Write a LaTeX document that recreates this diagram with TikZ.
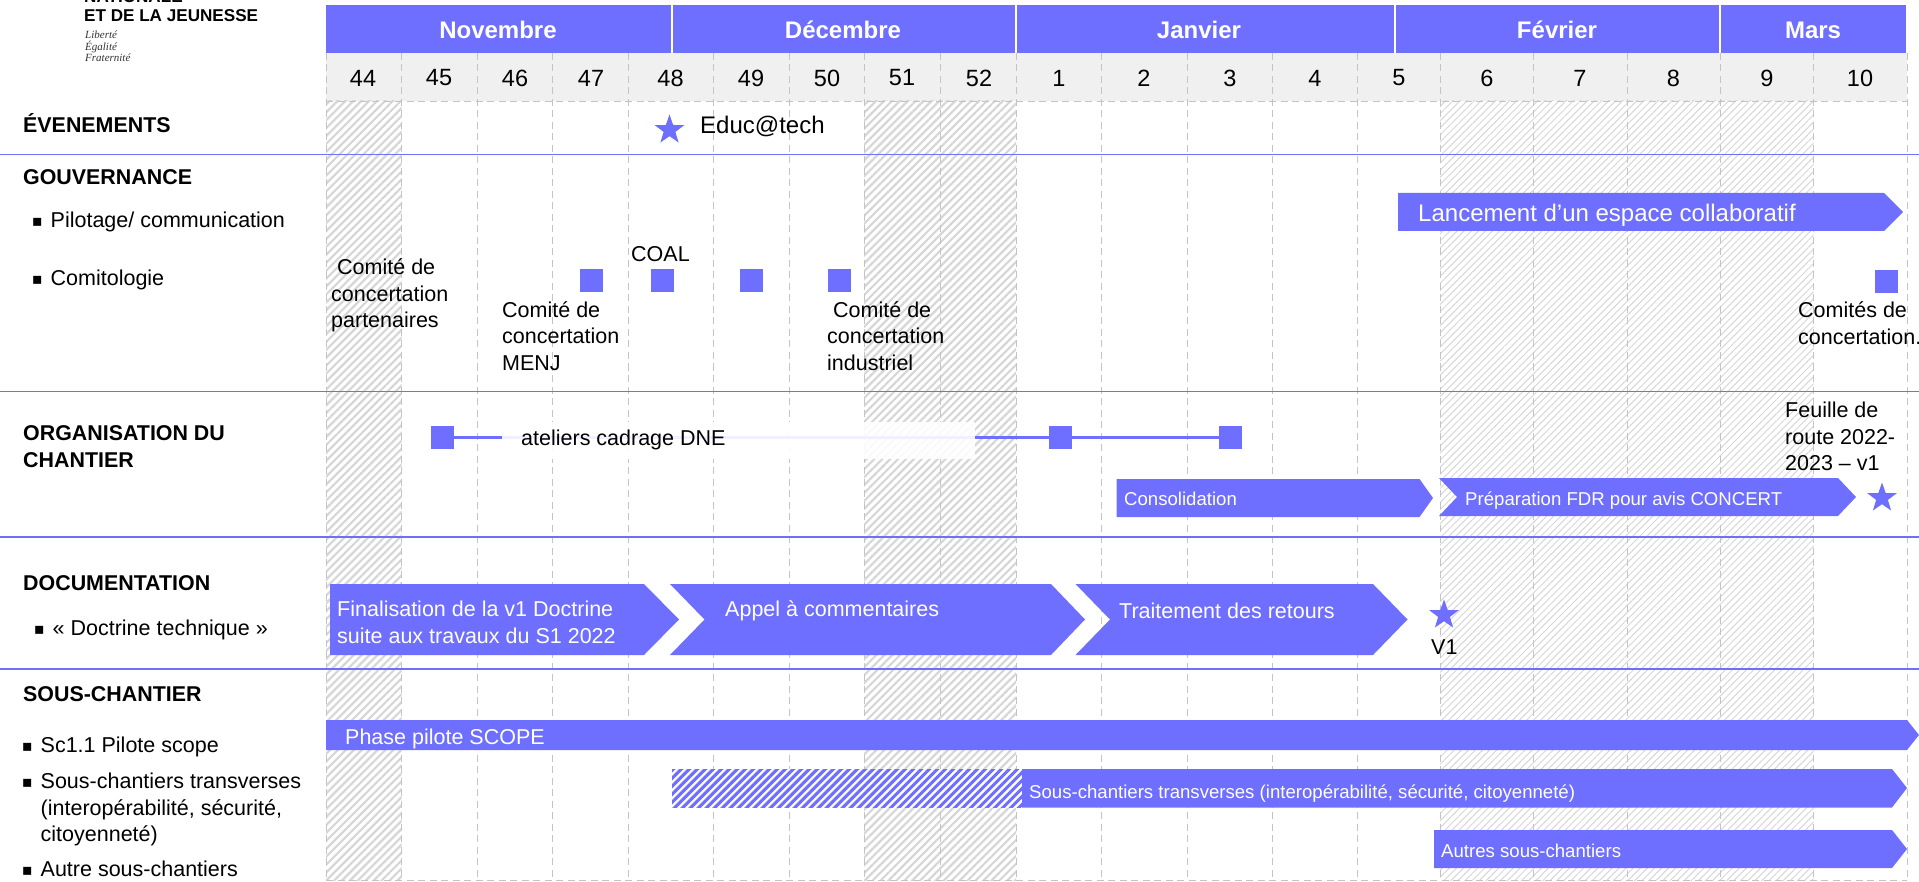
\documentclass[tikz,border=0pt]{standalone}
\usepackage{fontspec}
\setmainfont{Liberation Sans}
\newfontfamily\logofont{Liberation Serif}
\newfontfamily\pucefont{DejaVu Sans}
\usetikzlibrary{patterns.meta,shapes.geometric}
\definecolor{bluemain}{HTML}{6E6EFF}
\definecolor{greyhead}{HTML}{F0F0F0}
\definecolor{greygrid}{HTML}{C4C4C4}
\definecolor{greyhatch}{HTML}{D6D6D6}
\newcommand{\puce}{\llap{\raisebox{1pt}{\pucefont\fontsize{16}{16}\selectfont ▪}\hspace{8pt}}}

\begin{document}
\begin{tikzpicture}[x=1pt,y=-1pt,
  plain node/.style={anchor=west,inner sep=0pt,align=left},
  text node/.style={plain node,yshift=-2.4pt,
    font=\fontsize{21.5}{26.5}\selectfont},
  section node/.style={plain node,font=\bfseries\fontsize{21.4}{27}\selectfont},
  logo node/.style={plain node,font=\bfseries\fontsize{17.1}{19}\selectfont},
  bar node/.style={text node,text=white},
  small bar node/.style={bar node,font=\fontsize{18.6}{22}\selectfont},
  month node/.style={text=white,font=\bfseries\fontsize{24}{24}\selectfont},
  week node/.style={inner sep=0pt,font=\fontsize{23.5}{24}\selectfont},
  square node/.style={rectangle,fill=bluemain,inner sep=0pt,
    minimum width=23pt,minimum height=23pt},
  star node/.style={star,star points=5,star point ratio=2.5,fill=bluemain,
    inner sep=0pt,minimum size=31pt},
  main bar/.style={fill=bluemain},
  thick hatch/.style={pattern={Lines[angle=45,distance=5.6pt,line width=2.2pt]},
    pattern color=greyhatch},
  thin hatch/.style={pattern={Lines[angle=45,distance=5pt,line width=1pt]},
    pattern color=greyhatch},
  blue hatch/.style={pattern={Lines[angle=45,distance=5.66pt,line width=3.1pt]},
    pattern color=bluemain},
  grid line/.style={greygrid,line width=0.9pt,dash pattern=on 7pt off 4.5pt},
  section line/.style={bluemain,line width=1.8pt},
  link/.style={bluemain,line width=2.4pt}]

  \useasboundingbox (0,0) rectangle (1919,882);

  % fond des semaines
  \fill[greyhead] (326,53) rectangle (1907,101);
  \fill[thick hatch] (326,101) rectangle (401.5,880);
  \fill[thick hatch] (864,101) rectangle (1016,880);
  \fill[thin hatch] (1440,101) rectangle (1813.5,880);

  \foreach \xpos in {326,401.5,477,552.5,628.5,713,789,864,940,1016,1101.5,
                     1187,1272,1357.5,1440,1533,1627,1720,1813.5,1907}
    \draw[grid line] (\xpos,53) -- (\xpos,880);
  \draw[grid line] (326,101) -- (1907,101);
  \draw[grid line] (326,880) -- (1907,880);

  \foreach \ypos in {154.5,391.5,537,669.3}
    \draw[section line] (0,\ypos) -- (1919,\ypos);

  % mois
  \fill[main bar] (326,5) rectangle (671,53);
  \fill[main bar] (673,5) rectangle (1015,53);
  \fill[main bar] (1017,5) rectangle (1394,53);
  \fill[main bar] (1396,5) rectangle (1719,53);
  \fill[main bar] (1721,5) rectangle (1906,53);
  \node[month node] (nov) at (498,30) {Novembre};
  \node[month node] (dec) at (843,30) {Décembre};
  \node[month node] (jan) at (1199,30) {Janvier};
  \node[month node] (fev) at (1557,30) {Février};
  \node[month node] (mar) at (1813,30) {Mars};

  \foreach \xpos/\wk in {363/44,439/45,515/46,591/47,670.5/48,751/49,827/50,
                         902/51,979/52,1059/1,1144/2,1230/3,1315/4,1399/5,
                         1487/6,1580/7,1673.5/8,1767/9,1860/10}
    \node[week node] (w\wk) at (\xpos,78) {\wk};

  % logo
  \node[logo node] (logo a) at (84,-3) {NATIONALE};
  \node[logo node] (logo b) at (84,16) {ET DE LA JEUNESSE};
  \node[plain node,font=\logofont\itshape\fontsize{11}{11.7}\selectfont,text=black!80] (logo c) at (85,46.5)
    {Liberté\\Égalité\\Fraternité};

  % colonne de gauche
  \node[section node] (even) at (23,123.3) {ÉVENEMENTS};
  \node[section node] (gouv) at (23,177.5) {GOUVERNANCE};
  \node[text node] (pilot) at (50.5,220) {\puce Pilotage/ communication};
  \node[text node] (comit) at (50.5,278) {\puce Comitologie};
  \node[section node] (orga) at (23,446.5) {ORGANISATION DU\\CHANTIER};
  \node[section node] (docu) at (23,583) {DOCUMENTATION};
  \node[text node] (doct) at (52.5,627.3) {\puce « Doctrine technique »};
  \node[section node] (sous) at (23,694.5) {SOUS-CHANTIER};
  \node[text node] (sc one) at (40.5,745) {\puce Sc1.1 Pilote scope};
  \node[text node] (sc two) at (40.5,807.5)
    {\puce Sous-chantiers transverses\\(interopérabilité, sécurité,\\citoyenneté)};
  \node[text node] (sc three) at (40.5,866.8) {\puce Autre sous-chantiers};

  % evenements
  \node[star node] (educ star) at (669.5,130) {};
  \node[text node,font=\fontsize{24}{24}\selectfont] (educ) at (700,123.8) {Educ@tech};

  % gouvernance
  \fill[main bar] (1398,193) -- (1884,193) -- (1903,212) -- (1884,231) -- (1398,231) -- cycle;
  \node[bar node,font=\fontsize{24}{24}\selectfont] (lance) at (1418,213)
    {Lancement d’un espace collaboratif};

  \node[square node] (c a) at (591.5,280.5) {};
  \node[square node] (c b) at (662.5,280.5) {};
  \node[square node] (c c) at (751.5,280.5) {};
  \node[square node] (c d) at (839.5,280.5) {};
  \node[square node] (c e) at (1886.5,281.5) {};
  \node[text node] (coal) at (631,252) {COAL};
  \node[text node] (part) at (331,293) {\hspace*{6pt}Comité de\\concertation\\partenaires};
  \node[text node] (menj) at (502,333.5) {Comité de\\concertation\\MENJ};
  \node[text node] (indu) at (827,333.5) {\hspace*{6pt}Comité de\\concertation\\industriel};
  \node[text node] (comi) at (1798,321) {Comités de\\concertation.};

  % organisation
  \node[square node] (at a) at (442.5,437.5) {};
  \node[square node] (at b) at (1060.5,437.5) {};
  \node[square node] (at c) at (1230.5,437.5) {};
  \draw[link] (at a) -- (at b) -- (at c);
  \node[fill=white,fill opacity=0.9,inner sep=0pt,minimum width=473pt,minimum height=37pt]
    (voile) at (738.5,440) {};
  \node[text node] (atel) at (521,438) {ateliers cadrage DNE};

  \fill[main bar] (1116.5,479) -- (1419.5,479) -- (1433,498) -- (1419.5,517) -- (1116.5,517) -- cycle;
  \node[small bar node] (conso) at (1124,496.6) {Consolidation};
  \fill[main bar] (1439,478) -- (1838,478) -- (1856,497) -- (1838,516) -- (1439,516) -- (1457,497) -- cycle;
  \node[small bar node] (prep) at (1465,498) {Préparation FDR pour avis CONCERT};
  \node[star node] (fdr star) at (1882,498) {};
  \node[text node] (fdr) at (1785,434) {Feuille de\\route 2022-\\2023 – v1};

  % documentation
  \fill[main bar] (330,584) -- (644,584) -- (679,619.5) -- (644,655) -- (330,655) -- cycle;
  \node[bar node] (final) at (337,620) {Finalisation de la v1 Doctrine\\suite aux travaux du S1 2022};
  \fill[main bar] (670,584) -- (1051,584) -- (1085,619.5) -- (1051,655) -- (670,655) -- (704.5,619.5) -- cycle;
  \node[bar node] (appel) at (725,608) {Appel à commentaires};
  \fill[main bar] (1075.5,584) -- (1373,584) -- (1407.5,619.5) -- (1373,655) -- (1075.5,655) -- (1110,619.5) -- cycle;
  \node[bar node] (trait) at (1119,608) {Traitement des retours};
  \node[star node] (v star) at (1444,615) {};
  \node[text node] (v one) at (1431,645) {V1};

  % sous-chantiers
  \fill[main bar] (326,720) -- (1907,720) -- (1919,735) -- (1907,750) -- (326,750) -- cycle;
  \node[bar node] (phase) at (345,737) {Phase pilote SCOPE};
  \fill[white] (672,769) rectangle (1022,807.5);
  \fill[blue hatch] (672,769) rectangle (1022,807.5);
  \fill[main bar] (1022,769) -- (1892,769) -- (1907,788) -- (1892,807.5) -- (1022,807.5) -- cycle;
  \node[small bar node] (trans) at (1029,791.3)
    {Sous-chantiers transverses (interopérabilité, sécurité, citoyenneté)};
  \fill[main bar] (1434,830) -- (1892,830) -- (1907,849) -- (1892,868) -- (1434,868) -- cycle;
  \node[small bar node] (autres) at (1441,848.8) {Autres sous-chantiers};
\end{tikzpicture}
\end{document}
